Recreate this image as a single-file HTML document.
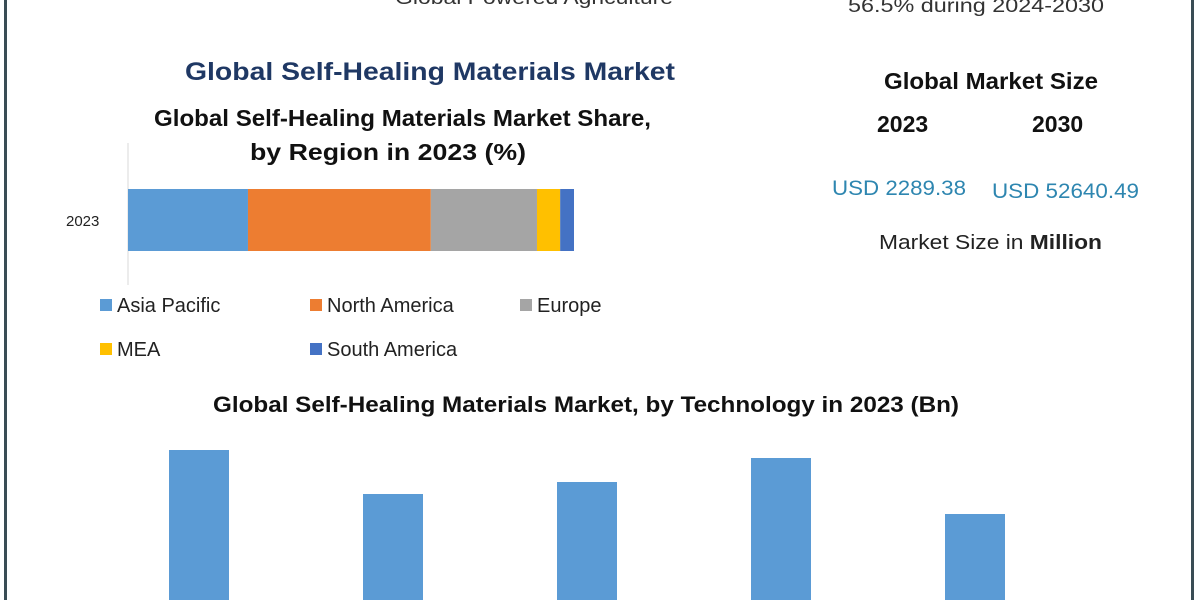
<!DOCTYPE html>
<html><head><meta charset="utf-8"><style>
html,body{margin:0;padding:0;background:#fff;width:1200px;height:600px;overflow:hidden;}
svg{display:block;font-family:"Liberation Sans",sans-serif;}
</style></head><body>
<svg id="chart" width="1200" height="600" viewBox="0 0 1200 600">
<rect x="0" y="0" width="1200" height="600" fill="#fff"/>
<rect x="4" y="0" width="3" height="600" fill="#3a4d55"/>
<rect x="1191" y="0" width="3" height="600" fill="#3a4d55"/>
<text x="395" y="4" font-size="19" fill="#333" textLength="278" lengthAdjust="spacingAndGlyphs">Global Powered Agriculture</text>
<text x="848" y="12" font-size="19" fill="#333" textLength="256" lengthAdjust="spacingAndGlyphs">56.5% during 2024-2030</text>
<text x="185" y="80" font-size="25" font-weight="bold" fill="#1f3864" textLength="490" lengthAdjust="spacingAndGlyphs">Global Self-Healing Materials Market</text>
<text x="154" y="126" font-size="23" font-weight="bold" fill="#111" textLength="497" lengthAdjust="spacingAndGlyphs">Global Self-Healing Materials Market Share,</text>
<text x="250" y="160" font-size="23" font-weight="bold" fill="#111" textLength="276" lengthAdjust="spacingAndGlyphs">by Region in 2023 (%)</text>
<line x1="128" y1="143" x2="128" y2="285" stroke="#d9d9d9" stroke-width="1"/>
<text x="66" y="226" font-size="15" fill="#222">2023</text>
<g id="stack"></g>
<g id="legend"></g>
<text x="884" y="89" font-size="23" font-weight="bold" fill="#111" textLength="214" lengthAdjust="spacingAndGlyphs">Global Market Size</text>
<text x="877" y="132" font-size="23" font-weight="bold" fill="#111">2023</text>
<text x="1032" y="132" font-size="23" font-weight="bold" fill="#111">2030</text>
<text x="832" y="195" font-size="21" fill="#2e86b0" textLength="134" lengthAdjust="spacingAndGlyphs">USD 2289.38</text>
<text x="992" y="198" font-size="21" fill="#2e86b0" textLength="147" lengthAdjust="spacingAndGlyphs">USD 52640.49</text>
<text x="879" y="249" font-size="20" fill="#222" textLength="223" lengthAdjust="spacingAndGlyphs">Market Size in <tspan font-weight="bold">Million</tspan></text>
<text x="213" y="412" font-size="22" font-weight="bold" fill="#111" textLength="746" lengthAdjust="spacingAndGlyphs">Global Self-Healing Materials Market, by Technology  in 2023 (Bn)</text>
<g id="bars"></g>
</svg>
<script>
const regions = ["Asia Pacific","North America","Europe","MEA","South America"];
const regionShare = [26.9, 41.0, 23.8, 5.2, 3.1];
const regionColors = ["#5b9bd5","#ed7d31","#a5a5a5","#ffc000","#4472c4"];
const techCategories = ["Tech 1","Tech 2","Tech 3","Tech 4","Tech 5"];
const techValues = [0.95, 0.73, 0.79, 0.91, 0.63];

const NS = "http://www.w3.org/2000/svg";
function xShare(v){ return v * 446 / 100; }
const stack = document.getElementById("stack");
let cx = 128;
regionShare.forEach((v,i)=>{
  const r = document.createElementNS(NS,"rect");
  const w = xShare(v);
  r.setAttribute("x", cx); r.setAttribute("y", 189);
  r.setAttribute("width", w); r.setAttribute("height", 62);
  r.setAttribute("fill", regionColors[i]);
  
  
  stack.appendChild(r);
  cx += w;
});
const legend = document.getElementById("legend");
const legPos = [[100,305],[310,305],[520,305],[100,349],[310,349]];
regions.forEach((name,i)=>{
  const g = document.createElementNS(NS,"g");
  
  
  const s = document.createElementNS(NS,"rect");
  s.setAttribute("x", legPos[i][0]); s.setAttribute("y", legPos[i][1]-6);
  s.setAttribute("width", 12); s.setAttribute("height", 12);
  s.setAttribute("fill", regionColors[i]);
  g.appendChild(s);
  const t = document.createElementNS(NS,"text");
  t.setAttribute("x", legPos[i][0]+17); t.setAttribute("y", legPos[i][1]+7);
  t.setAttribute("font-size", "20"); t.setAttribute("fill", "#222");
  t.textContent = name;
  g.appendChild(t);
  legend.appendChild(g);
});
const bars = document.getElementById("bars");
const base = 640;
const frameBottom = 600;
function yTech(v){ return base - v * 200; }
function xTech(i){ return 169 + i * 194; }
techValues.forEach((v,i)=>{
  const r = document.createElementNS(NS,"rect");
  const y = yTech(v);
  r.setAttribute("x", xTech(i)); r.setAttribute("y", y);
  r.setAttribute("width", 60); r.setAttribute("height", Math.max(0, frameBottom - y));
  r.setAttribute("fill", "#5b9bd5");
  
  
  bars.appendChild(r);
});
</script>
</body></html>
